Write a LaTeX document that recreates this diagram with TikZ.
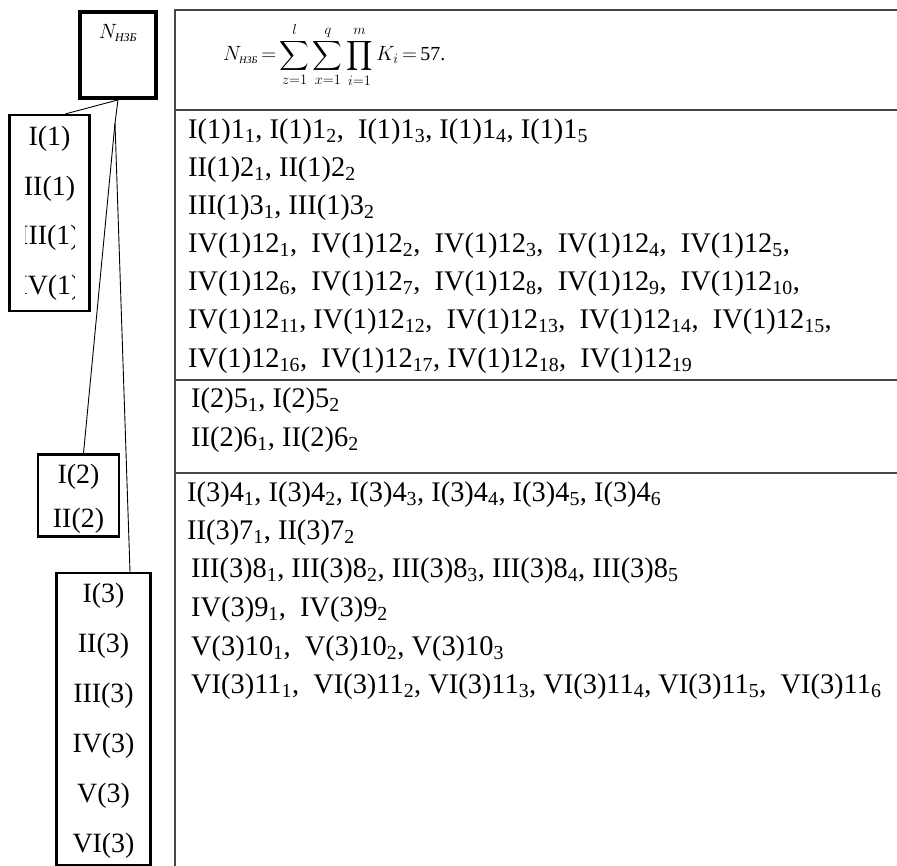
\documentclass[tikz,border=0pt]{standalone}
\usepackage{amsmath}
\usepackage{fontspec}
\setmainfont{Liberation Serif}
\usetikzlibrary{positioning, calc}
\definecolor{rulecolor}{RGB}{70,70,70}
\newcommand{\idx}[1]{\textsubscript{#1}}

\begin{document}
\begin{tikzpicture}[
    x=1bp, y=-1bp,
    topbox/.style={rectangle, draw, line width=3.8bp, minimum width=76bp, minimum height=86bp},
    levelbox/.style={rectangle, draw, line width=2.2bp},
    rowtext/.style={inner sep=0pt, anchor=base, font=\fontsize{28}{31}\selectfont},
    cell/.style={anchor=base west, inner sep=0pt, font=\fontsize{28.5}{32}\selectfont},
    rule/.style={draw=rulecolor, line width=1.8bp},
    link/.style={draw, line width=0.9bp}
]
\useasboundingbox (0,0) rectangle (897,866);

% --- tree on the left ---
\node[topbox] (nzb) at (118,55) {};
\node[inner sep=0pt, font=\fontsize{22}{24}\selectfont, below=14bp of nzb.north] (nzblabel)
    {$N_{\text{\itshape\fontsize{12}{13}\selectfont НЗБ}}$};

\node[levelbox, minimum width=80bp, minimum height=196bp] (lv1) at (49.5,213) {};
\begin{scope}
    \clip (25,117) rectangle (74,309);
    \node[rowtext] (lv1a) at (49.5,145) {I(1)};
    \node[rowtext] (lv1b) at (49.5,195) {II(1)};
    \node[rowtext] (lv1c) at (49.5,244) {III(1)};
    \node[rowtext] (lv1d) at (49.5,294) {IV(1)};
\end{scope}

\node[levelbox, minimum width=81bp, minimum height=82bp] (lv2) at (78.5,495.5) {};
\node[rowtext] (lv2a) at (78.5,483) {I(2)};
\node[rowtext] (lv2b) at (78.5,527) {II(2)};

\node[levelbox, minimum width=94bp, minimum height=292bp] (lv3) at (103.5,719) {};
\foreach \r [count=\k from 0] in {I,II,III,IV,V,VI}
    \node[rowtext] (lv3\k) at (103.5,602+50*\k) {\r(3)};

\coordinate (split) at (115,123);
\draw[link] (nzb.south) -- ([xshift=16bp]lv1.north);
\draw[link] (nzb.south) -- (split);
\draw[link] (split) -- ([xshift=5bp]lv2.north);
\draw[link] (split) -- ([xshift=26.5bp]lv3.north);

% --- table on the right ---
\coordinate (tl) at (175,10);
\coordinate (tr) at (897,10);
\coordinate (bl) at (175,866);
\draw[rule] (bl) -- (tl) -- (tr);
\foreach \y/\nm in {110/d1, 380/d2, 473/d3}
    \draw[rule] (175,\y) coordinate (\nm) -- (897,\y);

\node[inner sep=0pt, anchor=west, font=\fontsize{20}{23}\selectfont] (formula) at (223,55)
    {$\displaystyle N_{\text{\itshape\fontsize{10}{11}\selectfont НЗБ}} \mkern-2mu=\mkern-2mu \sum_{z=1}^{l}\sum_{x=1}^{q}\prod_{i=1}^{m} K_i \mkern-2mu=\mkern-2mu \text{57.}$};

% section 1
\node[cell] (r11) at (188,138) {I(1)1\idx1, I(1)1\idx2,\ \ I(1)1\idx3, I(1)1\idx4, I(1)1\idx5};
\node[cell] (r12) at (188,176) {II(1)2\idx1, II(1)2\idx2};
\node[cell] (r13) at (188,214) {III(1)3\idx1, III(1)3\idx2};
\node[cell] (r14) at (188,252) {IV(1)12\idx1,\ \ IV(1)12\idx2,\ \ IV(1)12\idx3,\ \ IV(1)12\idx4,\ \ IV(1)12\idx5,};
\node[cell] (r15) at (188,290) {IV(1)12\idx6,\ \ IV(1)12\idx7,\ \ IV(1)12\idx8,\ \ IV(1)12\idx9,\ \ IV(1)12\idx{10},};
\node[cell] (r16) at (188,328) {IV(1)12\idx{11}, IV(1)12\idx{12},\ \ IV(1)12\idx{13},\ \ IV(1)12\idx{14},\ \ IV(1)12\idx{15},};
\node[cell] (r17) at (188,367) {IV(1)12\idx{16},\ \ IV(1)12\idx{17}, IV(1)12\idx{18},\ \ IV(1)12\idx{19}};

% section 2
\node[cell] (r21) at (191,407) {I(2)5\idx1, I(2)5\idx2};
\node[cell] (r22) at (191,446) {II(2)6\idx1, II(2)6\idx2};

% section 3
\node[cell] (r31) at (187,501) {I(3)4\idx1, I(3)4\idx2, I(3)4\idx3, I(3)4\idx4, I(3)4\idx5, I(3)4\idx6};
\node[cell] (r32) at (187,539) {II(3)7\idx1, II(3)7\idx2};
\node[cell] (r33) at (191,577) {III(3)8\idx1, III(3)8\idx2, III(3)8\idx3, III(3)8\idx4, III(3)8\idx5};
\node[cell] (r34) at (191,616) {IV(3)9\idx1,\ \ IV(3)9\idx2};
\node[cell] (r35) at (191,655) {V(3)10\idx1,\ \ V(3)10\idx2, V(3)10\idx3};
\node[cell] (r36) at (191,693) {VI(3)11\idx1,\ \ VI(3)11\idx2, VI(3)11\idx3, VI(3)11\idx4, VI(3)11\idx5,\ \ VI(3)11\idx6};
\end{tikzpicture}
\end{document}
